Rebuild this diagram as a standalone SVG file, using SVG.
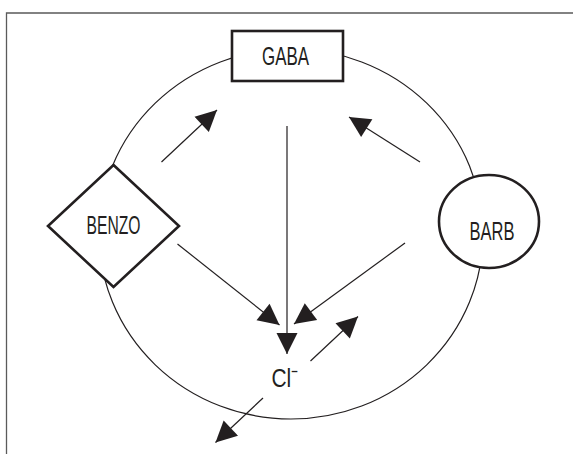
<svg xmlns="http://www.w3.org/2000/svg" width="573" height="454" viewBox="0 0 573 454">
  <style>
    .frame { fill: none; stroke: #5a5a5a; stroke-width: 1.3; }
    .membrane { fill: none; stroke: #231f20; stroke-width: 1.2; }
    .link { fill: none; stroke: #231f20; stroke-width: 1.2; marker-end: url(#head); }
    .node { fill: #ffffff; stroke: #231f20; stroke-width: 2.6; }
    .label { font-family: "Liberation Sans Narrow", "Liberation Sans", Arial, sans-serif; font-size: 26px; fill: #231f20; }
  </style>
  <defs>
    <marker id="head" markerUnits="userSpaceOnUse" markerWidth="23" markerHeight="23" viewBox="0 -11.5 22 23" refX="21" refY="0" orient="auto">
      <path d="M0,-10.5 L21,0 L0,10.5 Z" fill="#231f20"/>
    </marker>
  </defs>

  <!-- page frame -->
  <path class="frame" d="M6.5,454 V13 H573"/>

  <!-- receptor outline -->
  <ellipse class="membrane" cx="291" cy="234" rx="192" ry="185"/>

  <!-- connectors -->
  <g id="connectors">
    <line class="link" x1="161.5" y1="162" x2="217" y2="110"/>
    <line class="link" x1="420" y1="162" x2="349" y2="117"/>
    <line class="link" x1="287" y1="126" x2="287" y2="354"/>
    <line class="link" x1="177.5" y1="244" x2="279.5" y2="325"/>
    <line class="link" x1="405" y1="243" x2="294" y2="324"/>
    <line class="link" x1="310.5" y1="361" x2="358" y2="316.5"/>
    <line class="link" x1="263" y1="398" x2="215.5" y2="442.5"/>
  </g>

  <!-- GABA -->
  <g id="gaba">
    <rect class="node" x="232" y="31" width="111" height="50"/>
    <text class="label" x="262" y="65" textLength="47" lengthAdjust="spacingAndGlyphs">GABA</text>
  </g>

  <!-- BENZO -->
  <g id="benzo">
    <polygon class="node" points="113.5,165 179,226 113.5,287 48,226"/>
    <text class="label" x="86.5" y="233.5" textLength="54" lengthAdjust="spacingAndGlyphs">BENZO</text>
  </g>

  <!-- BARB -->
  <g id="barb">
    <ellipse class="node" cx="489" cy="221.5" rx="50" ry="46.5"/>
    <text class="label" x="469.5" y="239.5" textLength="45" lengthAdjust="spacingAndGlyphs">BARB</text>
  </g>

  <!-- chloride ion -->
  <g id="chloride">
    <text class="label" x="271.5" y="387" textLength="27" lengthAdjust="spacingAndGlyphs">Cl⁻</text>
  </g>
</svg>
